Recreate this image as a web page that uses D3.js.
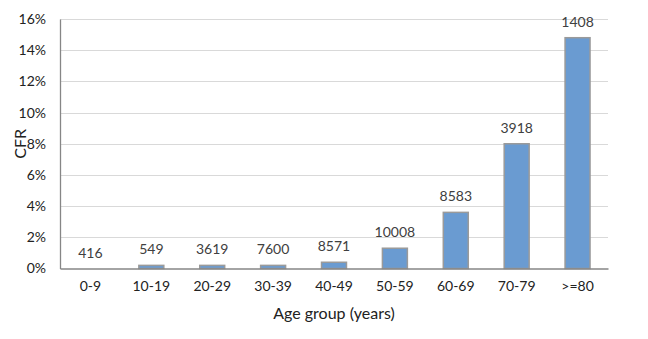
<!DOCTYPE html>
<html><head><meta charset="utf-8">
<script src="https://cdn.jsdelivr.net/npm/d3@7"></script>
<style>body{margin:0;background:#fff}</style>
</head><body>
<svg id="c" width="648" height="339"></svg>
<script>
const categories = ["0-9","10-19","20-29","30-39","40-49","50-59","60-69","70-79",">=80"];
const cfr = [0, 0.2, 0.2, 0.2, 0.4, 1.3, 3.6, 8.0, 14.8];
const cases = [416, 549, 3619, 7600, 8571, 10008, 8583, 3918, 1408];
const yTicks = [0,2,4,6,8,10,12,14,16];

const svg = d3.select("#c");
const m = {l:60, r:40, t:19, b:70};
const W = 648, H = 339;
const x = d3.scaleBand().domain(categories).range([m.l, 608]).paddingInner(0.59).paddingOuter(0.295);
const y = d3.scaleLinear().domain([0,16]).range([268.5, 19]);
const font = "Lato, 'Open Sans', sans-serif";

// gridlines
svg.append("g").selectAll("line").data(yTicks.slice(1)).join("line")
  .attr("x1", m.l).attr("x2", 608).attr("y1", d=>Math.round(y(d))+0.5).attr("y2", d=>Math.round(y(d))+0.5)
  .attr("stroke", "#d9d9d9").attr("stroke-width", 1);

// y axis
const ya = svg.append("g").attr("transform", `translate(${m.l},0)`)
  .call(d3.axisLeft(y).tickValues(yTicks).tickFormat(d=>d+"%").tickSize(0).tickPadding(14));
ya.select(".domain").attr("stroke","#868686").attr("stroke-width",1.3);
ya.selectAll("text").attr("font-family", font).attr("font-size", 14).attr("fill", "#222");

// bars
svg.append("g").selectAll("rect").data(categories).join("rect")
  .attr("x", d=>x(d)).attr("width", x.bandwidth())
  .attr("y", (d,i)=>y(cfr[i])).attr("height", (d,i)=>y(0)-y(cfr[i]))
  .attr("fill", "#6a9bd1").attr("stroke", "#9a9a9a").attr("stroke-width", 1.5);

// x axis
const xa = svg.append("g").attr("transform", `translate(0,${y(0)})`)
  .call(d3.axisBottom(x).tickSize(0).tickPadding(13));
xa.select(".domain").attr("stroke","#868686").attr("stroke-width",1.3);
xa.selectAll("text").attr("font-family", font).attr("font-size", 14).attr("fill", "#222");

// labels
svg.append("g").selectAll("text").data(categories).join("text")
  .attr("x", d=>x(d)+x.bandwidth()/2).attr("y", (d,i)=>y(cfr[i])-11)
  .attr("text-anchor","middle").attr("font-family", font).attr("font-size", 14).attr("fill", "#404040")
  .text((d,i)=>cases[i]);

// axis titles
svg.append("text").attr("x", (m.l+608)/2).attr("y", 319).attr("text-anchor","middle")
  .attr("font-family", font).attr("font-size", 16).attr("fill","#222").text("Age group (years)");
svg.append("text").attr("transform", `translate(26,${y(8)}) rotate(-90)`).attr("text-anchor","middle")
  .attr("font-family", font).attr("font-size", 16).attr("fill","#222").text("CFR");
</script>
</body></html>
